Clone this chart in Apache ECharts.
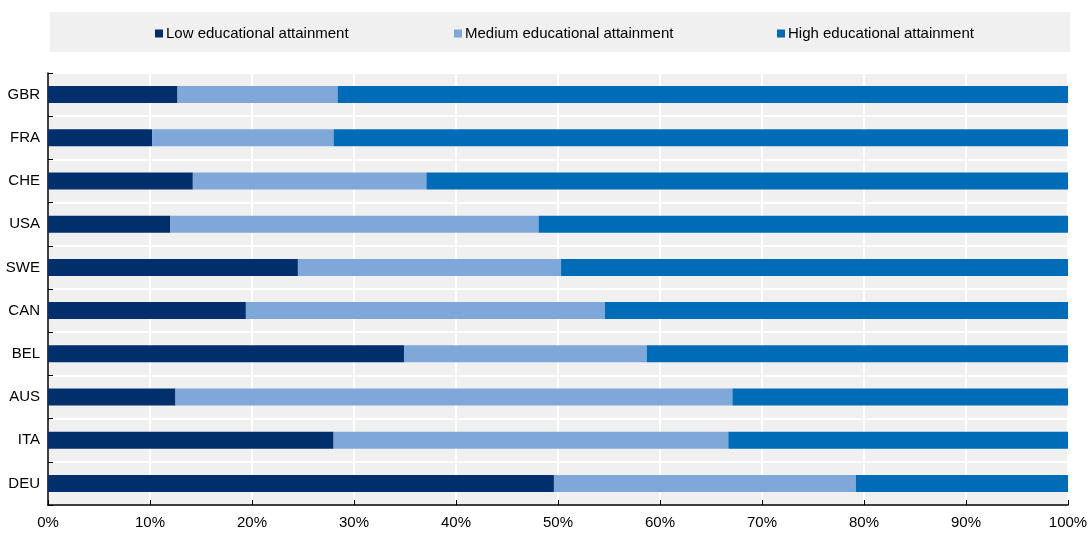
<!DOCTYPE html>
<html>
<head>
    <meta charset="utf-8">
    <title>ECharts</title>
    <script src="https://cdn.jsdelivr.net/npm/echarts@6/dist/echarts.min.js"></script>
    <style>
        html, body { margin: 0; padding: 0; background: #fff; }
    </style>
</head>
<body>
    <div id="main" style="width: 1088px;height:535px;"></div>
    <script type="text/javascript">
        // countries, top to bottom
        var countries = ['GBR', 'FRA', 'CHE', 'USA', 'SWE', 'CAN', 'BEL', 'AUS', 'ITA', 'DEU'];
        // shares in %, each row sums to 100
        var lowShare    = [12.7, 10.2, 14.2, 12.0, 24.5, 19.4, 34.9, 12.5, 28.0, 49.6];
        var mediumShare = [15.7, 17.8, 22.9, 36.1, 25.8, 35.2, 23.8, 54.6, 38.7, 29.6];
        var highShare   = [71.6, 72.0, 62.9, 51.9, 49.7, 45.4, 41.3, 32.9, 33.3, 20.8];
        var seriesNames = ['Low educational attainment', 'Medium educational attainment', 'High educational attainment'];
        var seriesColors = ['#002f6c', '#7fa8d9', '#006bb6'];
        var xTicks = [0, 10, 20, 30, 40, 50, 60, 70, 80, 90, 100];

        var font = "'Liberation Sans Narrow', 'Arial Narrow', 'Liberation Sans', sans-serif";
        var legendLeft = [155, 454, 777];

        var myChart = echarts.init(document.getElementById('main'));

        var values = [lowShare, mediumShare, highShare];
        var series = seriesNames.map(function (name, i) {
            return {
                name: name,
                type: 'bar',
                stack: 'total',
                barWidth: 17,
                itemStyle: { color: seriesColors[i] },
                data: values[i]
            };
        });

        var option = {
            animation: false,
            textStyle: { fontFamily: font },
            graphic: [{
                type: 'rect',
                left: 50,
                top: 12,
                z: -1,
                shape: { width: 1020, height: 40 },
                style: { fill: '#f0f0f0' }
            }],
            legend: seriesNames.map(function (name, i) {
                return {
                    data: [name],
                    left: legendLeft[i],
                    top: 26,
                    padding: 0,
                    itemWidth: 8,
                    itemHeight: 8,
                    itemGap: 4,
                    icon: 'rect',
                    textStyle: { fontFamily: font, fontSize: 15, color: '#000', padding: [0, 0, 0, -2] }
                };
            }),
            grid: {
                left: 48,
                right: 20,
                top: 73,
                bottom: 30,
                outerBoundsMode: 'none',
                show: true,
                backgroundColor: '#f0f0f0',
                borderWidth: 0
            },
            xAxis: {
                type: 'value',
                min: 0,
                max: 100,
                interval: 10,
                axisLine: { show: true, lineStyle: { color: '#000', width: 1.5 } },
                axisTick: { show: true, inside: true, length: 5, lineStyle: { color: '#000' } },
                axisLabel: {
                    color: '#000',
                    fontSize: 15,
                    margin: 10,
                    fontFamily: font,
                    formatter: function (v) { return xTicks.indexOf(v) >= 0 ? v + '%' : ''; }
                },
                splitLine: { show: true, lineStyle: { color: '#ffffff', width: 2 } }
            },
            yAxis: {
                type: 'category',
                inverse: true,
                data: countries,
                axisLine: { show: true, lineStyle: { color: '#000', width: 1.5 } },
                axisTick: { show: true, inside: true, length: 5, lineStyle: { color: '#000' } },
                axisLabel: { color: '#000', fontSize: 15, margin: 8, fontFamily: font },
                splitLine: { show: true, lineStyle: { color: '#ffffff', width: 2 } }
            },
            series: series
        };

        myChart.setOption(option);
    </script>
</body>
</html>
